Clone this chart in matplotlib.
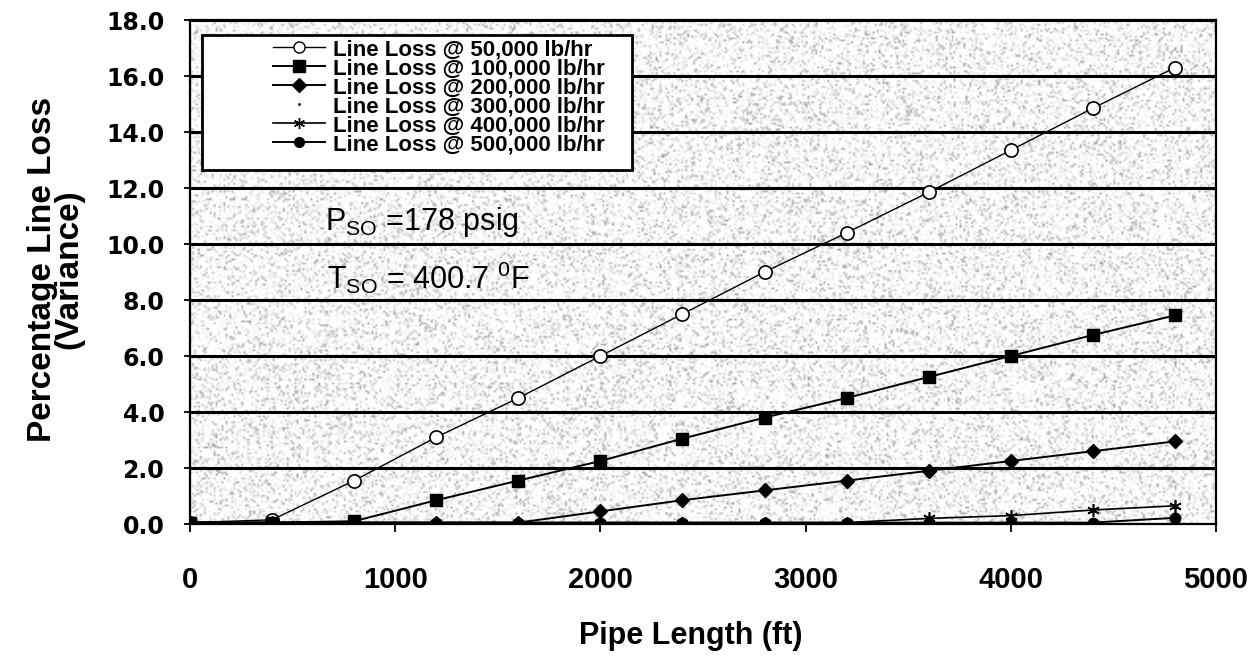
import numpy as np
import matplotlib
matplotlib.use("Agg")
from matplotlib import pyplot as plt
from matplotlib.lines import Line2D
from matplotlib.patches import Rectangle

plt.rcParams['mathtext.default'] = 'regular'

pipe_length = [0, 400, 800, 1200, 1600, 2000, 2400, 2800, 3200, 3600, 4000, 4400, 4800]
loss_50k = [0.05, 0.15, 1.55, 3.1, 4.5, 6.0, 7.5, 9.0, 10.4, 11.85, 13.35, 14.85, 16.3]
loss_100k = [0.05, 0.05, 0.1, 0.85, 1.55, 2.25, 3.05, 3.8, 4.5, 5.25, 6.0, 6.75, 7.45]
loss_200k = [0.05, 0.05, 0.05, 0.05, 0.05, 0.45, 0.85, 1.2, 1.55, 1.9, 2.25, 2.6, 2.95]
loss_400k = [0.05, 0.05, 0.05, 0.05, 0.05, 0.05, 0.05, 0.05, 0.05, 0.2, 0.3, 0.5, 0.65]
loss_500k = [0.05, 0.05, 0.05, 0.05, 0.05, 0.05, 0.05, 0.05, 0.05, 0.05, 0.05, 0.05, 0.22]

labels = ["Line Loss @ 50,000 lb/hr", "Line Loss @ 100,000 lb/hr",
          "Line Loss @ 200,000 lb/hr", "Line Loss @ 300,000 lb/hr",
          "Line Loss @ 400,000 lb/hr", "Line Loss @ 500,000 lb/hr"]
xticks = [0, 1000, 2000, 3000, 4000, 5000]
yticks = [0, 2, 4, 6, 8, 10, 12, 14, 16, 18]

fig = plt.figure(figsize=(12.54, 6.56), dpi=100)
ax = fig.add_axes([190/1254, 1-524/656, (1216-190)/1254, (524-20)/656])

# speckled photocopy-like background, mostly white
rng = np.random.default_rng(3)
tex = 1 - 0.38*rng.random((260, 520))**6
ax.imshow(tex, cmap='gray', vmin=0, vmax=1, extent=[0, 5000, 0, 18],
          aspect='auto', interpolation='bilinear', zorder=0)

ax.plot(pipe_length, loss_50k, color='black', lw=1.0, marker='o', ms=9.5,
        mfc='white', mec='black', mew=1.2, zorder=3)
ax.plot(pipe_length, loss_100k, color='black', lw=1.4, marker='s', ms=8.5, zorder=3)
ax.plot(pipe_length, loss_200k, color='black', lw=1.4, marker='D', ms=7, zorder=3)
ax.plot(pipe_length, loss_400k, color='black', lw=1.2, marker=(6, 2, 0), ms=9,
        mew=1.2, zorder=3)
ax.plot(pipe_length, loss_500k, color='black', lw=1.4, marker='o', ms=7.5, zorder=3)

ax.set_xlim(0, 5000)
ax.set_ylim(0, 18)
ax.set_xticks(xticks)
ax.set_yticks(yticks)
ax.set_yticklabels(["%.1f" % v for v in yticks], fontfamily='DejaVu Sans',
                   fontweight='bold', fontsize=17)
ax.set_xticklabels([str(v) for v in xticks], fontfamily='Liberation Sans',
                   fontweight='bold', fontsize=21)
ax.tick_params(axis='y', direction='inout', length=9, width=1.3, pad=14)
ax.tick_params(axis='x', direction='out', length=6, width=1.3, pad=24)
ax.grid(axis='y', color='black', lw=2.2)
ax.set_axisbelow(False)
for s in ax.spines.values():
    s.set_linewidth(1.6)
    s.set_zorder(4)

ax.set_xlabel("Pipe Length (ft)", fontfamily='Liberation Sans', fontweight='bold', fontsize=22)
ax.xaxis.set_label_coords(0.488, -0.222)
ax.xaxis.label.set_va('center')
ax.set_ylabel("Percentage Line Loss\n(Variance)", fontfamily='Liberation Sans',
              fontweight='bold', fontsize=24, linespacing=0.8)
ax.yaxis.set_label_coords(-0.131, 0.506)
ax.yaxis.label.set_va('center')

ax.text(658, 10.8, "P$_{SO}$ =178 psig", fontfamily='Liberation Sans', fontsize=22,
        va='center', ha='left', zorder=5)
ax.text(668, 8.8, "T$_{SO}$ = 400.7 $^{0}$F", fontfamily='Liberation Sans', fontsize=22,
        va='center', ha='left', zorder=5)

# legend box drawn separately so the handles can sit indented
ax.add_patch(Rectangle((0.0117, 0.702), 0.4191, 0.268, transform=ax.transAxes,
                       facecolor='white', edgecolor='black', lw=2, zorder=6))
handles = [
    Line2D([], [], color='black', lw=1.0, marker='o', ms=8, mfc='white', mec='black'),
    Line2D([], [], color='black', lw=1.4, marker='s', ms=8),
    Line2D([], [], color='black', lw=1.4, marker='D', ms=7),
    Line2D([], [], ls='none', marker='.', ms=2, color='black'),
    Line2D([], [], color='black', lw=1.2, marker=(6, 2, 0), ms=8),
    Line2D([], [], color='black', lw=1.4, marker='o', ms=7),
]
leg = ax.legend(handles, labels, loc='upper left', bbox_to_anchor=(0.081, 0.962),
                frameon=False, borderpad=0, borderaxespad=0, handlelength=2.35,
                handletextpad=0.35, labelspacing=-0.09,
                prop={'family': 'Liberation Sans', 'weight': 'bold', 'size': 16})
leg.set_zorder(7)

fig.savefig("out.png", dpi=100)
